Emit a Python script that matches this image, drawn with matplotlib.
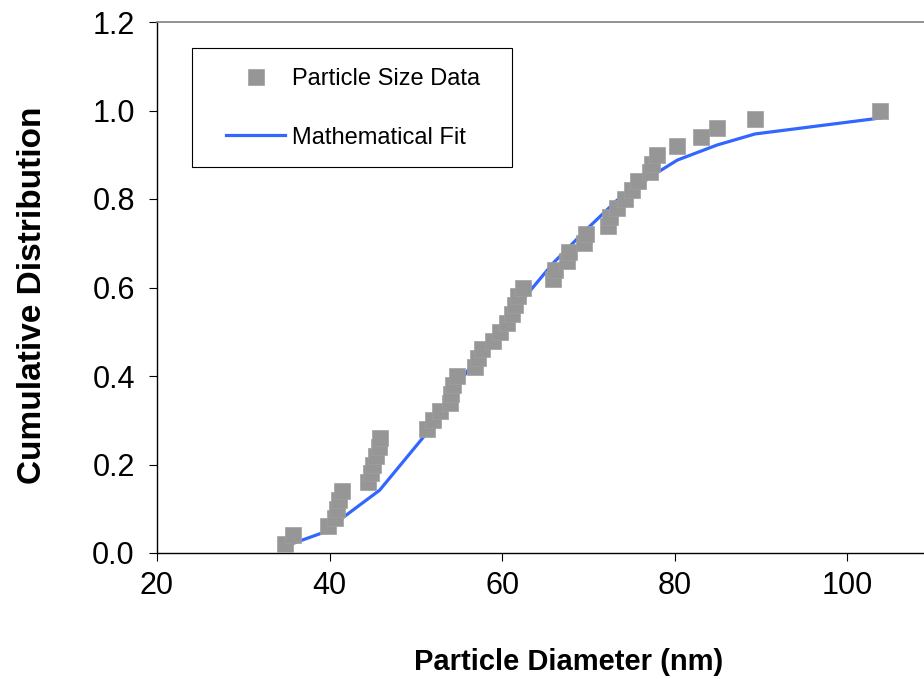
import matplotlib.pyplot as plt
from matplotlib.lines import Line2D
from matplotlib.patches import Rectangle

# particle size data (sorted diameters, nm) and cumulative fraction
diam_nm = [34.8, 35.8, 39.8, 40.6, 40.9, 41.1, 41.4, 44.4, 44.8, 45.0,
           45.4, 45.7, 45.8, 51.3, 52.0, 52.8, 54.0, 54.1, 54.3, 54.8,
           56.8, 57.2, 57.7, 58.9, 59.7, 60.6, 61.1, 61.5, 61.8, 62.4,
           65.9, 66.1, 67.5, 67.7, 69.5, 69.7, 72.3, 72.5, 73.3, 74.2,
           75.0, 75.7, 77.1, 77.4, 77.9, 80.3, 83.0, 84.9, 89.3, 103.8]
cum_frac = [0.02, 0.04, 0.06, 0.08, 0.10, 0.12, 0.14, 0.16, 0.18, 0.20,
            0.22, 0.24, 0.26, 0.28, 0.30, 0.32, 0.34, 0.36, 0.38, 0.40,
            0.42, 0.44, 0.46, 0.48, 0.50, 0.52, 0.54, 0.56, 0.58, 0.60,
            0.62, 0.64, 0.66, 0.68, 0.70, 0.72, 0.74, 0.76, 0.78, 0.80,
            0.82, 0.84, 0.86, 0.88, 0.90, 0.92, 0.94, 0.96, 0.98, 1.00]

# fitted curve
fit_nm = [34.8, 35.8, 39.8, 41.4, 45.8, 51.3, 54.8, 57.7, 61.8, 65.9,
          69.7, 73.3, 77.9, 80.3, 84.9, 89.3, 103.8]
fit_frac = [0.015, 0.022, 0.050, 0.078, 0.142, 0.272, 0.378, 0.460, 0.559, 0.655,
            0.730, 0.797, 0.859, 0.888, 0.922, 0.947, 0.983]

x_ticks = [20, 40, 60, 80, 100]
y_ticks = [0.0, 0.2, 0.4, 0.6, 0.8, 1.0, 1.2]

plt.rcParams['font.family'] = ['Liberation Sans', 'DejaVu Sans']

W, H = 924, 679
fig = plt.figure(figsize=(W / 100, H / 100), dpi=100)
# plot area runs past the right edge of the picture, like the original crop
ax = fig.add_axes([157 / W, 1 - 553 / H, (980 - 157) / W, 531 / H])

blue = '#3366ff'
gray = '#969696'

ax.plot(fit_nm, fit_frac, color=blue, lw=2.3, zorder=2)
ax.plot(diam_nm, cum_frac, 's', color=gray, ms=11.5, mec='#a0a0a0', mew=0.5,
        zorder=3)

ax.set_xlim(20, 20 + (980 - 157) / 8.63)
ax.set_ylim(0, 1.2)
ax.set_xticks(x_ticks)
ax.set_yticks(y_ticks)
ax.set_yticklabels([f'{v:.1f}' for v in y_ticks])
ax.tick_params(direction='out', length=6, width=0.8, labelsize=22, colors='black')
ax.tick_params(axis='y', pad=10)
ax.tick_params(axis='x', pad=7)

ax.spines['right'].set_visible(False)
ax.spines['top'].set_color('#808080')
ax.spines['top'].set_linewidth(1.2)
for s in ('left', 'bottom'):
    ax.spines[s].set_color('black')
    ax.spines[s].set_linewidth(1.0)

ax.set_xlabel('Particle Diameter (nm)', fontsize=21, fontweight='bold')
ax.set_ylabel('Cumulative Distribution', fontsize=24, fontweight='bold')
ax.xaxis.set_label_coords(0.5, -0.179)
ax.yaxis.set_label_coords(-0.1324, 0.486)

# legend: frame drawn separately so the padding can match the original
fig.patches.append(Rectangle((192 / W, 1 - 167 / H), 320 / W, 119 / H,
                             transform=fig.transFigure, fill=False,
                             ec='black', lw=0.8))
handles = [Line2D([], [], ls='none', marker='s', color=gray, ms=11.5,
                  mec='#a0a0a0', mew=0.5),
           Line2D([], [], color=blue, lw=2.3)]
fig.legend(handles, ['Particle Size Data', 'Mathematical Fit'],
           loc='upper left', bbox_to_anchor=(226 / W, 1 - 68 / H),
           bbox_transform=fig.transFigure, fontsize=17, frameon=False,
           borderpad=0, borderaxespad=0, labelspacing=1.55,
           handlelength=2.5, handletextpad=0.3)

fig.savefig('out.png', dpi=100)
